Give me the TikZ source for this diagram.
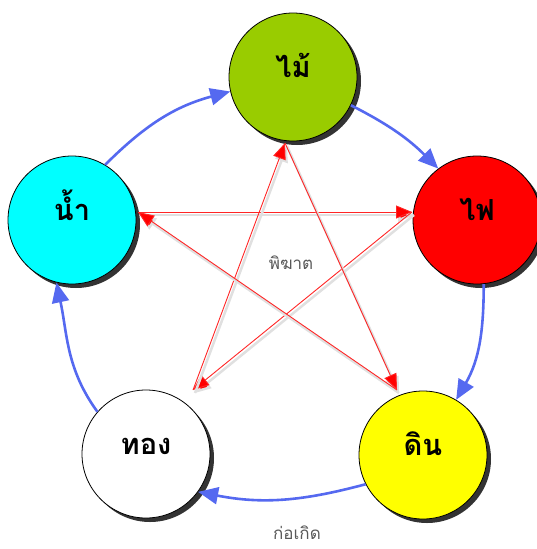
\documentclass[tikz,border=0pt]{standalone}
\usepackage{fontspec}
\newfontfamily\thaifont[Script=Thai]{Loma}
\usetikzlibrary{arrows.meta,shadows}
\definecolor{maigreen}{RGB}{153,204,0}
\definecolor{faired}{RGB}{255,0,0}
\definecolor{dinyellow}{RGB}{255,255,0}
\definecolor{namcyan}{RGB}{0,255,255}
\definecolor{cycleblue}{RGB}{85,105,240}
\tikzset{
  element/.style={circle, draw=black, line width=0.8pt, minimum size=128pt, inner sep=0pt,
    text height=0pt, text depth=0pt,
    font=\thaifont\bfseries\fontsize{29}{34}\selectfont,
    drop shadow={shadow xshift=4pt, shadow yshift=-4pt, opacity=0.8, fill=black}},
  create/.style={draw=cycleblue, line width=2.6pt, -{Triangle[length=20pt,width=17pt]}},
  destroy/.style={draw=red!85, line width=0.9pt, -{Triangle[length=16pt,width=13pt,fill=red]},
    preaction={draw=black!12, line width=2.5pt, transform canvas={xshift=2pt,yshift=-3pt}}},
  note/.style={font=\thaifont\fontsize{17}{20}\selectfont, text=black!65}
}
\begin{document}
\begin{tikzpicture}[x=1pt,y=1pt]
\useasboundingbox (0,0) rectangle (536,-549);
% the five elements, placed at pixel positions of the chart
\foreach \id/\x/\y/\col/\txt in {mai/293/77/maigreen/ไม้, fai/477/220/faired/ไฟ,
    din/423/455/dinyellow/ดิน, thong/146/454/white/ทอง, nam/72/220/namcyan/น้ำ}
  \node[element, fill=\col] (\id) at (\x,-\y) {\txt};
% star points of the destroying cycle
\coordinate (tMai) at (285,-143);
\coordinate (tFai) at (412,-212);
\coordinate (tDin) at (397,-390);
\coordinate (tThong) at (193,-390);
\coordinate (tNam) at (138,-212);
\foreach \a/\b in {tNam/tFai, tFai/tThong, tThong/tMai, tMai/tDin, tDin/tNam}
  \draw[destroy] (\a) -- (\b);
% creating cycle round the outside
\foreach \a/\b/\ao/\o/\i/\bi in {nam/mai/59/45/195/193, mai/fai/334/333/135/127,
    fai/din/276/270/60/59, din/thong/207/195/349/324, thong/nam/139/126/282/256}
  \draw[create] (\a.\ao) to[out=\o,in=\i] (\b.\bi);
\node[note] (kill) at (291,-263) {พิฆาต};
\node[note, anchor=base] (born) at (297,-539) {ก่อเกิด};
\end{tikzpicture}
\end{document}
